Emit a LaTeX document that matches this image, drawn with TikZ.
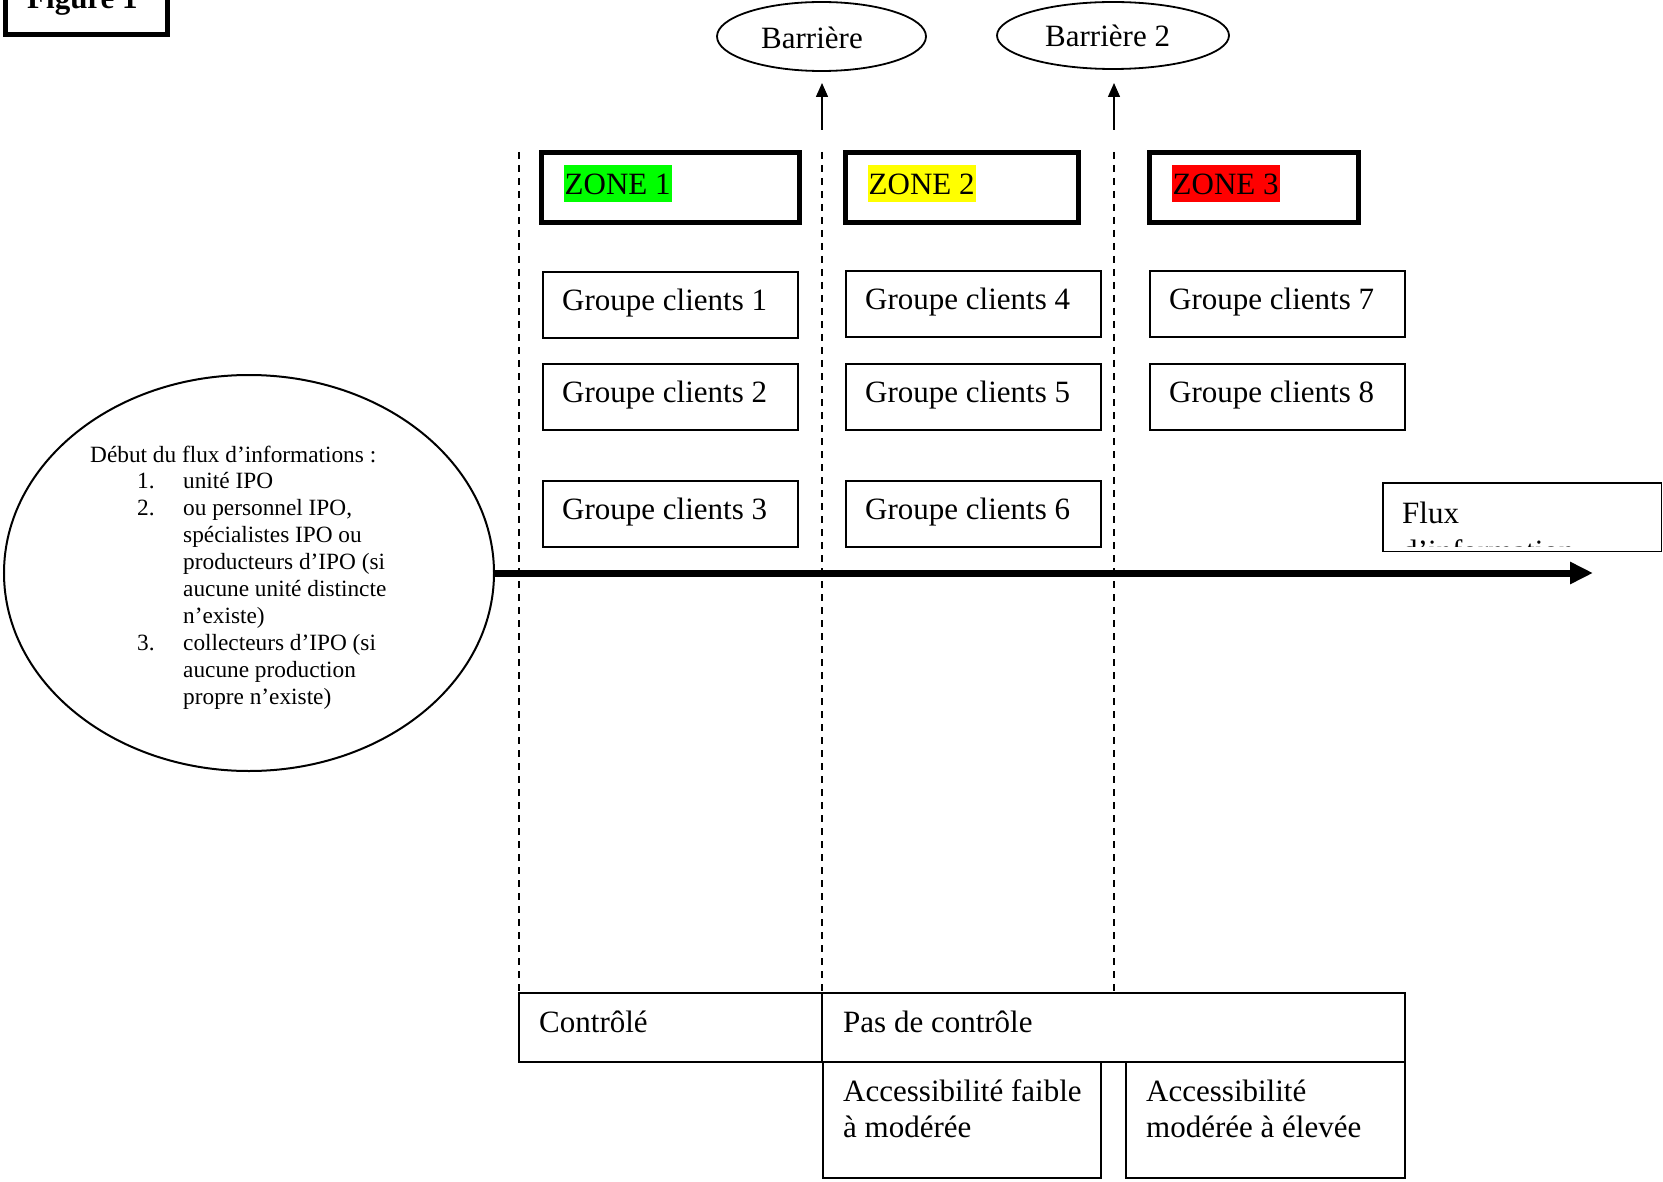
\documentclass[tikz,border=0pt]{standalone}
\usepackage{fontspec}
\setmainfont{Liberation Serif}
\usetikzlibrary{arrows.meta,shapes.geometric}
\definecolor{zgreen}{RGB}{0,255,0}
\definecolor{zyellow}{RGB}{255,255,0}
\definecolor{zred}{RGB}{255,0,0}
\begin{document}
\begin{tikzpicture}[x=1pt,y=-1pt,
  font=\fontsize{31}{35.6}\selectfont,
  thinbox/.style={draw, line width=2pt, rectangle, inner sep=0pt},
  zonebox/.style={draw, line width=5pt, rectangle, inner sep=0pt},
  txt/.style={anchor=base west, inner sep=0pt, align=left},
  hl/.style={anchor=base west, inner xsep=1pt, inner ysep=0pt, text height=30pt, text depth=7pt, fill=#1},
  sepline/.style={line width=1.5pt, dash pattern=on 7pt off 6pt},
  oval/.style={draw, ellipse, line width=1.8pt, inner sep=0pt},
  uparrow/.style={line width=1.5pt, -{Triangle[length=14pt,width=12pt]}},
  flowarrow/.style={line width=7pt, -{Triangle[length=23pt,width=21pt]}},
]
\useasboundingbox (0,0) rectangle (1663,1182);

% Figure label
\node[zonebox, minimum width=162pt, minimum height=72pt] (figbox) at (86.5,-1.5) {};
\node[txt, font=\bfseries\fontsize{31}{35.6}\selectfont] (figt) at (27,9) {Figure 1};

% Barrier ellipses
\node[oval, minimum width=209pt, minimum height=69pt] (bar1) at (821.5,36.5) {};
\node[txt] (bar1t) at (761,49) {Barrière};
\node[oval, minimum width=232pt, minimum height=67pt] (bar2) at (1113,35.5) {};
\node[txt] (bar2t) at (1045,47) {Barrière 2};

% barrier arrows
\coordinate (a1s) at (822,130);
\coordinate (a1e) at (822,83);
\coordinate (a2s) at (1114,130);
\coordinate (a2e) at (1114,83);
\draw[uparrow] (a1s) -- (a1e);
\draw[uparrow] (a2s) -- (a2e);

% dashed separators
\coordinate (d1t) at (519,152); \coordinate (d1b) at (519,992);
\coordinate (d2t) at (822,152); \coordinate (d2b) at (822,992);
\coordinate (d3t) at (1114,152); \coordinate (d3b) at (1114,992);
\draw[sepline] (d1t) -- (d1b);
\draw[sepline] (d2t) -- (d2b);
\draw[sepline] (d3t) -- (d3b);

% zones
\node[zonebox, minimum width=258pt, minimum height=70pt] (z1) at (670.5,187.5) {};
\node[zonebox, minimum width=233pt, minimum height=70pt] (z2) at (962,187.5) {};
\node[zonebox, minimum width=209pt, minimum height=70pt] (z3) at (1254,187.5) {};
\node[hl=zgreen] (z1t) at (563.5,195) {ZONE 1};
\node[hl=zyellow] (z2t) at (867.5,195) {ZONE 2};
\node[hl=zred] (z3t) at (1171.5,195) {ZONE 3};

% client groups
\node[thinbox, minimum width=255pt, minimum height=66pt] (g1) at (670.5,305) {};
\node[thinbox, minimum width=255pt, minimum height=66pt] (g2) at (670.5,396.5) {};
\node[thinbox, minimum width=255pt, minimum height=66pt] (g3) at (670.5,513.5) {};
\node[thinbox, minimum width=255pt, minimum height=66pt] (g4) at (973.5,304) {};
\node[thinbox, minimum width=255pt, minimum height=66pt] (g5) at (973.5,396.5) {};
\node[thinbox, minimum width=255pt, minimum height=66pt] (g6) at (973.5,513.5) {};
\node[thinbox, minimum width=255pt, minimum height=66pt] (g7) at (1277,304) {};
\node[thinbox, minimum width=255pt, minimum height=66pt] (g8) at (1277,396.5) {};
\node[txt] (g1t) at (562,311) {Groupe clients 1};
\node[txt] (g2t) at (562,402) {Groupe clients 2};
\node[txt] (g3t) at (562,519) {Groupe clients 3};
\node[txt] (g4t) at (865,310) {Groupe clients 4};
\node[txt] (g5t) at (865,402) {Groupe clients 5};
\node[txt] (g6t) at (865,519) {Groupe clients 6};
\node[txt] (g7t) at (1169,310) {Groupe clients 7};
\node[txt] (g8t) at (1169,402) {Groupe clients 8};

% flux box (text clipped); base anchor = last line baseline
\node[draw, line width=1.5pt, rectangle, inner sep=0pt, minimum width=278.5pt, minimum height=68.5pt] (flux) at (1522,517) {};
\begin{scope}
\clip (1383,483) rectangle (1661,546);
\node[txt, font=\fontsize{31}{38}\selectfont] (fluxt) at (1402,561) {Flux\\d’information};
\end{scope}

% start ellipse
\node[oval, line width=2pt, minimum width=490pt, minimum height=396pt] (start) at (249,573) {};
\node[txt, font=\fontsize{23.3}{26.9}\selectfont] (startt) at (90,704.1) {Début du flux d’informations :\\
\hspace*{47pt}\makebox[46pt][l]{1.}unité IPO\\
\hspace*{47pt}\makebox[46pt][l]{2.}ou personnel IPO,\\
\hspace*{93pt}spécialistes IPO ou\\
\hspace*{93pt}producteurs d’IPO (si\\
\hspace*{93pt}aucune unité distincte\\
\hspace*{93pt}n’existe)\\
\hspace*{47pt}\makebox[46pt][l]{3.}collecteurs d’IPO (si\\
\hspace*{93pt}aucune production\\
\hspace*{93pt}propre n’existe)};

% main flow arrow
\coordinate (flowend) at (1593,573);
\draw[flowarrow] (start.east) -- (flowend);

% bottom boxes
\node[thinbox, minimum width=303pt, minimum height=69pt] (ctrl) at (670.5,1027.5) {};
\node[thinbox, minimum width=583pt, minimum height=69pt] (pas) at (1113.5,1027.5) {};
\node[thinbox, minimum width=278pt, minimum height=116pt] (acc1) at (962,1120) {};
\node[thinbox, minimum width=279pt, minimum height=116pt] (acc2) at (1265.5,1120) {};
\node[txt] (ctrlt) at (539,1032) {Contrôlé};
\node[txt] (past) at (843,1032) {Pas de contrôle};
\node[txt] (acc1t) at (843,1137) {Accessibilité faible\\à modérée};
\node[txt] (acc2t) at (1146,1137) {Accessibilité\\modérée à élevée};
\end{tikzpicture}
\end{document}
